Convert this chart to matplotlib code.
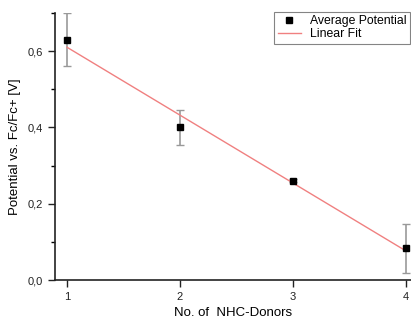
import numpy as np
import matplotlib
matplotlib.use("Agg")
import matplotlib.pyplot as plt
from matplotlib.ticker import FuncFormatter, MultipleLocator

## Data

donors = [1, 2, 3, 4]
potential = [0.63, 0.40, 0.26, 0.083]
potential_err = [0.07, 0.045, 0.004, 0.065]

# linear fit through the averages
slope, intercept = np.polyfit(donors, potential, 1)
fit_x = np.array([donors[0], donors[-1]])
fit_y = slope * fit_x + intercept

## Figure

plt.rcParams["font.family"] = ["Liberation Sans", "DejaVu Sans"]

fig = plt.figure(figsize=(4.11, 3.2), dpi=100)
ax = fig.add_axes([0.134, 0.125, 0.866, 0.834])

ax.errorbar(donors, potential, yerr=potential_err, fmt="none",
            ecolor="#999999", elinewidth=1.2, capsize=3, capthick=1, zorder=2)
ax.plot(donors, potential, "s", color="black", markersize=5,
        label="Average Potential", zorder=3)
ax.plot(fit_x, fit_y, color="#f08080", linewidth=1, label="Linear Fit", zorder=2)

ax.set_xlim(0.894, 4.044)
ax.set_ylim(0, 0.7)
ax.set_xticks(donors)
ax.yaxis.set_major_locator(MultipleLocator(0.2))
ax.yaxis.set_minor_locator(MultipleLocator(0.1))
ax.yaxis.set_major_formatter(FuncFormatter(lambda v, p: f"{v:.1f}".replace(".", ",")))
ax.tick_params(axis="both", which="major", direction="out", length=5, width=1,
               labelsize=8, colors="#222222")
ax.tick_params(axis="y", which="minor", direction="out", length=3, width=1)

for side in ["top", "right"]:
    ax.spines[side].set_visible(False)
for side in ["left", "bottom"]:
    ax.spines[side].set_linewidth(1.2)
    ax.spines[side].set_color("#222222")

ax.set_xlabel("No. of  NHC-Donors", fontsize=9.5, labelpad=4)
ax.set_ylabel("Potential vs. Fc/Fc+ [V]", fontsize=9.5, labelpad=5)

leg = ax.legend(loc="upper right", bbox_to_anchor=(0.997, 1.005), fontsize=8.8,
                frameon=True, fancybox=False, edgecolor="#666666",
                handlelength=1.9, borderpad=0.3, labelspacing=0.05,
                handletextpad=0.7, borderaxespad=0, markerscale=0.75)
leg.get_frame().set_linewidth(0.8)

fig.savefig("out.png", dpi=100)
